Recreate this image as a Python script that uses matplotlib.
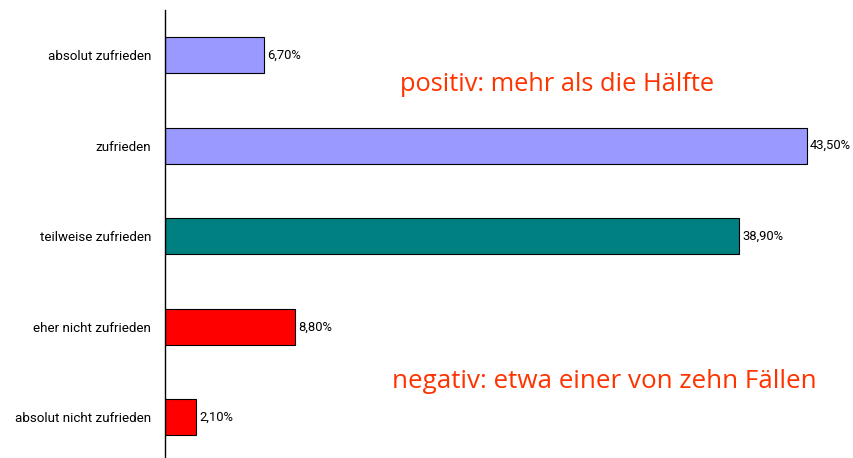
import matplotlib.pyplot as plt

categories = ["absolut nicht zufrieden", "eher nicht zufrieden", "teilweise zufrieden",
              "zufrieden", "absolut zufrieden"]
values = [2.1, 8.8, 38.9, 43.5, 6.7]
labels = ["2,10%", "8,80%", "38,90%", "43,50%", "6,70%"]
colors = ["#FF0000", "#FF0000", "#008080", "#9999FF", "#9999FF"]

plt.rcParams['font.family'] = ['Roboto', 'DejaVu Sans']

fig = plt.figure(figsize=(8.54, 4.58), dpi=100)
ax = fig.add_axes([165 / 854, 0, 1 - 165 / 854, 1 - 10 / 458])

y = list(range(len(categories)))
ax.barh(y, values, height=0.4, color=colors, edgecolor="black", linewidth=0.8)
for yi, v, lab in zip(y, values, labels):
    ax.text(v + 0.2, yi, lab, va="center", ha="left", fontsize=9.4)

ax.set_xlim(0, 46.68)
ax.set_ylim(-0.45, 4.5)
ax.set_yticks(y)
ax.set_yticklabels(categories, fontsize=9.6)
ax.tick_params(axis="y", length=0, pad=10)
ax.set_xticks([])
for s in ["top", "right", "bottom"]:
    ax.spines[s].set_visible(False)
ax.spines["left"].set_linewidth(1)

fig.text(400 / 854, 1 - 85 / 458, "positiv: mehr als die Hälfte", color="#FF3300",
         fontsize=18.3, va="center", ha="left", family=["Open Sans", "DejaVu Sans"])
fig.text(392 / 854, 1 - 381 / 458, "negativ: etwa einer von zehn Fällen", color="#FF3300",
         fontsize=18.7, va="center", ha="left", family=["Open Sans", "DejaVu Sans"])

fig.savefig("out.png", dpi=100)
